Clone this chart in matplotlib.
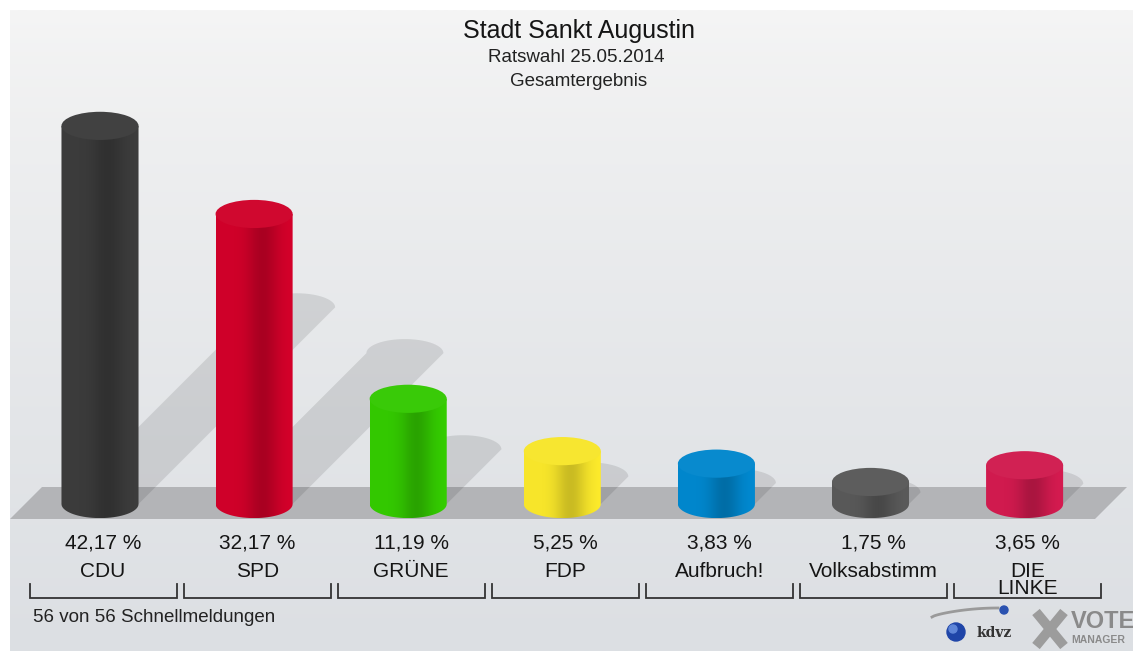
import numpy as np
import matplotlib
matplotlib.use("Agg")
import matplotlib.pyplot as plt
from matplotlib.patches import Polygon, Ellipse, Circle
from matplotlib.transforms import blended_transform_factory
from matplotlib.colors import to_rgb

plt.rcParams["font.family"] = ["Liberation Sans", "DejaVu Sans"]

# ---- data ----
PARTIES = ["CDU", "SPD", "GRÜNE", "FDP", "Aufbruch!", "Volksabstimm", "DIE\nLINKE"]
SHARES = [42.17, 32.17, 11.19, 5.25, 3.83, 1.75, 3.65]
COLORS = ["#3b3b3b", "#cf0029", "#33c800", "#f7e52a", "#0086cc", "#585858", "#d01a4e"]
TITLE = "Stadt Sankt Augustin"
SUBTITLE = "Ratswahl 25.05.2014"
SUBTITLE2 = "Gesamtergebnis"
FOOTNOTE = "56 von 56 Schnellmeldungen"

# ---- layout (pixels) ----
W, H = 1133, 651
X0, DX = 100, 154.1     # first bar centre, spacing
Y0, DY = 504, 8.81      # base line, pixels per percent
STUB = 0.75             # minimum cylinder height (percent units)
HW = 0.25               # cylinder half width (category units)
EH = 1.6                # ellipse half height (percent units)
INK = "#151515"

fig = plt.figure(figsize=(W / 100, H / 100), dpi=100)
fig.patch.set_facecolor("white")
bg = fig.add_axes([0, 0, 1, 1])
bg.axis("off")
ax = fig.add_axes([0, 0, 1, 1], zorder=2)
ax.axis("off")
ax.patch.set_visible(False)

# background gradient + floor
top_c, bot_c = np.array(to_rgb("#f5f5f5")), np.array(to_rgb("#dcdfe3"))
t = np.linspace(0, 1, 256) ** 0.8
grad = top_c[None, :] * (1 - t[:, None]) + bot_c[None, :] * t[:, None]
bg.imshow(grad[:, None, :], extent=[10, W, H, 10], aspect="auto", zorder=0)
bg.add_patch(Polygon([(10, 519), (42, 487), (1127, 487), (1095, 519)],
                     closed=True, facecolor="#b3b4b7", edgecolor="none", zorder=1))
bg.set_xlim(0, W)
bg.set_ylim(H, 0)


def shade(tt):
    return 1.0 - 0.2 * np.exp(-((tt - 0.6) / 0.2) ** 2) + 0.03 * tt


arc = np.linspace(0, np.pi, 40)
for i, (v, c) in enumerate(zip(SHARES, COLORS)):
    top = v + STUB
    # shadow
    rise = 0.52 * top
    dxs = rise * DY / DX
    pts = [(i - HW, 0), (i + HW, 0)]
    pts += [(i + dxs + HW * np.cos(a), rise + EH * np.sin(a)) for a in arc]
    ax.add_patch(Polygon(pts, closed=True, facecolor="black", alpha=0.1,
                         edgecolor="none", zorder=1))
    # body
    body = [(i + HW * np.cos(a), EH * np.sin(a)) for a in np.linspace(np.pi, 2 * np.pi, 40)]
    body += [(i + HW, top), (i - HW, top)]
    clip = Polygon(body, closed=True, facecolor="none", edgecolor="none")
    ax.add_patch(clip)
    tt = np.linspace(0, 1, 200)
    img = np.clip(np.array(to_rgb(c))[None, :] * shade(tt)[:, None], 0, 1)
    im = ax.imshow(img[None, :, :], extent=[i - HW, i + HW, -EH, top],
                   aspect="auto", interpolation="bilinear", zorder=2)
    im.set_clip_path(clip)
    # top face
    lc = np.array(to_rgb(c)) * 0.97 + 0.03
    ax.add_patch(Ellipse((i, top), 2 * HW, 2 * EH, facecolor=lc,
                         edgecolor="none", zorder=3))

ax.set_xlim(-X0 / DX, (W - X0) / DX)
ax.set_ylim(-(H - Y0) / DY, Y0 / DY)
ax.set_aspect("auto")

# labels and brackets
tr = blended_transform_factory(ax.transData, bg.transData)
for i, (name, v) in enumerate(zip(PARTIES, SHARES)):
    ax.text(i + 0.02, 543, f"{v:.2f} %".replace(".", ","), transform=tr,
            ha="center", va="center", fontsize=15, color=INK)
    ax.text(i + 0.02, 562, name, transform=tr, ha="center", va="top",
            fontsize=15, color=INK, linespacing=0.9)
    xl, xr = i + 0.02 - 0.477, i + 0.02 + 0.477
    ax.plot([xl, xl, xr, xr], [584, 598, 598, 584], transform=tr,
            color="#333333", lw=1.3, solid_joinstyle="miter")

# titles
bg.text(579, 31, TITLE, ha="center", va="center", fontsize=18, color=INK)
bg.text(576, 58, SUBTITLE, ha="center", va="center", fontsize=13.5, color="#222222")
bg.text(579, 82, SUBTITLE2, ha="center", va="center", fontsize=13.5, color="#222222")
bg.text(33, 618, FOOTNOTE, ha="left", va="center", fontsize=13.5, color="#222222")

# logo
sx = np.linspace(932, 998, 30)
bg.plot(sx, 617 - 9 * np.sin((sx - 932) / 66 * np.pi / 2) ** 0.7, color="#9a9a9a", lw=2)
bg.add_patch(Circle((1004, 610), 4, color="#2a52b0", zorder=3))
bg.add_patch(Circle((956, 632), 9, color="#1f45a8", zorder=3))
bg.add_patch(Circle((953, 629), 4, color="#5f86d8", zorder=3))
bg.text(977, 633, "kdvz", ha="left", va="center", fontsize=10, fontweight="bold",
        family="DejaVu Serif", color="#333333")
bg.plot([1036, 1064], [612, 646], color="#9c9c9c", lw=7, solid_capstyle="butt")
bg.plot([1064, 1036], [612, 646], color="#9c9c9c", lw=7, solid_capstyle="butt")
bg.text(1071, 621, "VOTE", ha="left", va="center", fontsize=17, fontweight="bold",
        color="#8a8a8a")
bg.text(1071, 640, "MANAGER", ha="left", va="center", fontsize=7.5, fontweight="bold",
        color="#8a8a8a")

fig.savefig("out.png", dpi=100)
